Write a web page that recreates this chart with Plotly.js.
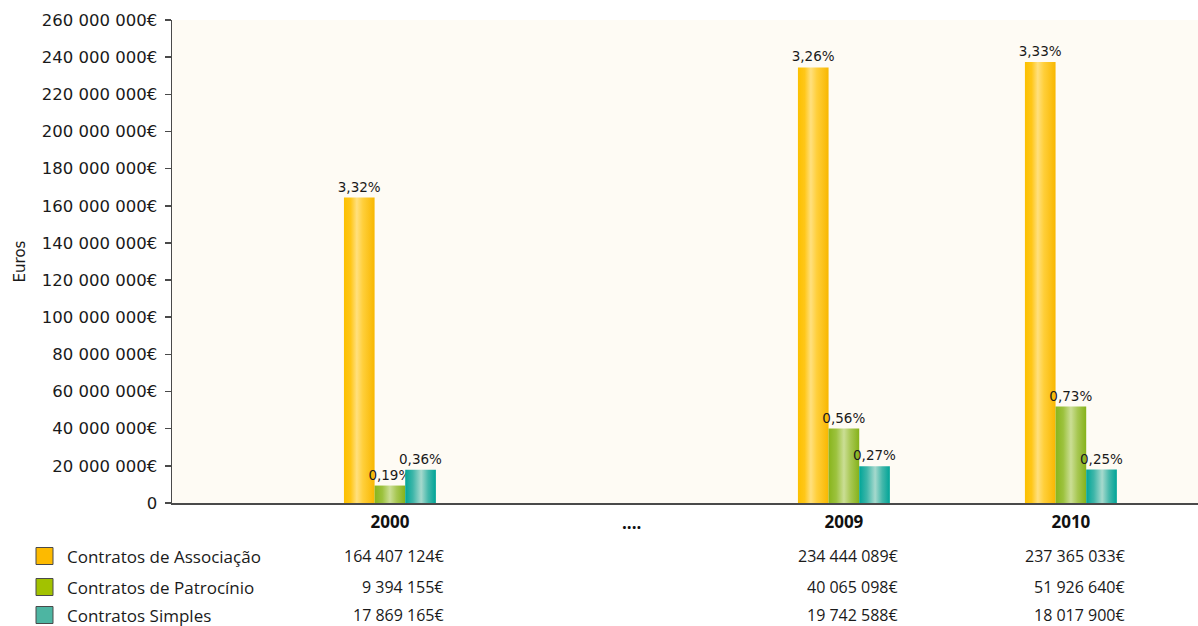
<!DOCTYPE html>
<html>
<head>
<meta charset="utf-8">
<script src="https://cdn.plot.ly/plotly-3.0.1.min.js"></script>
<style>
  html, body { margin: 0; padding: 0; background: #ffffff; }
  #chart { width: 1198px; height: 626px; }
</style>
</head>
<body>
<div id="chart"></div>
<script>
// ---------- DATA ----------
const categories = ['2000', '....', '2009', '2010'];
const xTickText = ['2000', '', '2009', '2010'];
const gapLabel = '....';
const seriesNames = ['Contratos de Associação', 'Contratos de Patrocínio', 'Contratos Simples'];
const associacao = [164407124, null, 234444089, 237365033];
const patrocinio = [9394155, null, 40065098, 51926640];
const simples = [17869165, null, 19742588, 18017900];
const pctAssociacao = ['3,32%', '', '3,26%', '3,33%'];
const pctPatrocinio = ['0,19%', '', '0,56%', '0,73%'];
const pctSimples = ['0,36%', '', '0,27%', '0,25%'];
const yTickVals = [0, 20000000, 40000000, 60000000, 80000000, 100000000, 120000000,
  140000000, 160000000, 180000000, 200000000, 220000000, 240000000, 260000000];
const yTickText = ['0', '20 000 000€', '40 000 000€', '60 000 000€', '80 000 000€',
  '100 000 000€', '120 000 000€', '140 000 000€', '160 000 000€', '180 000 000€',
  '200 000 000€', '220 000 000€', '240 000 000€', '260 000 000€'];

// ---------- STYLE ----------
const legendColors = ['#FDBA00', '#A2C200', '#4DB5A2'];
const gradients = [
  [[0, '#FCC000'], [0.22, '#FFC718'], [0.42, '#FFE07E'], [0.62, '#FFCF3A'], [1, '#F8B700']],
  [[0, '#88B51C'], [0.25, '#9CC23E'], [0.5, '#CBDE95'], [0.72, '#A7C752'], [1, '#85B21A']],
  [[0, '#00A598'], [0.25, '#3EB6A9'], [0.52, '#A6D9CD'], [0.75, '#44B8AB'], [1, '#00A497']]
];
const W = 1198, H = 626;
const M = {l: 172, r: 0, t: 20, b: 123};
const plotW = W - M.l - M.r, plotH = H - M.t - M.b;
const px2x = p => (p - M.l) / plotW;
const py2y = p => (H - M.b - p) / plotH;
const TXT = '#1a1a1a';

const fmtEuro = v => String(v).replace(/\B(?=(\d{3})+(?!\d))/g, ' ') + '€';

const seriesVals = [associacao, patrocinio, simples];
const seriesPct = [pctAssociacao, pctPatrocinio, pctSimples];

const traces = seriesVals.map((vals, i) => ({
  type: 'bar',
  name: seriesNames[i],
  x: categories,
  y: vals,
  text: seriesPct[i],
  textposition: 'outside',
  constraintext: 'none',
  cliponaxis: false,
  textfont: {family: 'DejaVu Sans', size: 13.5, color: TXT},
  marker: {color: legendColors[i], line: {width: 0}},
  showlegend: false,
  hoverinfo: 'skip'
}));

const rowY = [556, 587, 615];
const annotations = [];
const shapes = [];
seriesNames.forEach((name, i) => {
  annotations.push({
    xref: 'paper', yref: 'paper', x: px2x(66), y: py2y(rowY[i]),
    xanchor: 'left', yanchor: 'middle', showarrow: false, text: name, borderpad: 0,
    font: {family: 'Open Sans', size: 17, color: TXT}
  });
  shapes.push({
    type: 'rect', xref: 'paper', yref: 'paper',
    x0: px2x(36), x1: px2x(53), y0: py2y(rowY[i] - 8.5), y1: py2y(rowY[i] + 8.5),
    fillcolor: legendColors[i], line: {color: '#4a4a4a', width: 1}
  });
  categories.forEach((c, j) => {
    const v = seriesVals[i][j];
    if (v == null) return;
    annotations.push({
      xref: 'x', yref: 'paper', x: j, y: py2y(rowY[i]), xshift: 55, borderpad: 0,
      xanchor: 'right', yanchor: 'middle', showarrow: false, text: fmtEuro(v),
      font: {family: 'Open Sans', size: 16, color: TXT}
    });
  });
});
annotations.push({
  xref: 'x', yref: 'paper', x: 1, y: py2y(522), xshift: 15,
  xanchor: 'center', yanchor: 'middle', showarrow: false, text: '<b>' + gapLabel + '</b>',
  font: {family: 'Open Sans', size: 17, color: '#111'}
});

const layout = {
  width: W, height: H,
  margin: M,
  paper_bgcolor: '#ffffff',
  plot_bgcolor: '#FEFBF4',
  barmode: 'group',
  bargap: 0.595,
  bargroupgap: 0,
  showlegend: false,
  xaxis: {
    type: 'category',
    range: [-0.96, 3.56],
    tickvals: categories, ticktext: xTickText,
    showgrid: false, zeroline: false,
    showline: true, linecolor: '#4a4a4a', linewidth: 2,
    ticks: '', ticklabelstandoff: 3,
    tickfont: {family: 'Open Sans', size: 17, color: '#111', weight: 'bold'}
  },
  yaxis: {
    range: [0, 260000000],
    tickvals: yTickVals, ticktext: yTickText,
    showgrid: false, zeroline: false,
    showline: true, linecolor: '#4a4a4a', linewidth: 1.5,
    ticks: 'outside', ticklen: 6, tickcolor: '#4a4a4a', tickwidth: 1.5,
    ticklabelstandoff: 4,
    tickfont: {family: 'DejaVu Sans', size: 16.5, color: TXT},
    title: {text: 'Euros', standoff: 12, font: {family: 'DejaVu Sans', size: 15, color: TXT}}
  },
  annotations: annotations,
  shapes: shapes
};

Plotly.newPlot('chart', traces, layout, {displayModeBar: false, staticPlot: true}).then(gd => {
  const svg = gd.querySelector('svg.main-svg');
  const NS = 'http://www.w3.org/2000/svg';
  let defs = svg.querySelector('defs');
  if (!defs) { defs = document.createElementNS(NS, 'defs'); svg.insertBefore(defs, svg.firstChild); }
  gradients.forEach((stops, i) => {
    const lg = document.createElementNS(NS, 'linearGradient');
    lg.setAttribute('id', 'barGrad' + i);
    lg.setAttribute('x1', '0'); lg.setAttribute('x2', '1');
    lg.setAttribute('y1', '0'); lg.setAttribute('y2', '0');
    stops.forEach(s => {
      const st = document.createElementNS(NS, 'stop');
      st.setAttribute('offset', s[0]);
      st.setAttribute('stop-color', s[1]);
      lg.appendChild(st);
    });
    defs.appendChild(lg);
  });
  const groups = gd.querySelectorAll('.barlayer .trace.bars');
  groups.forEach((g, i) => {
    g.querySelectorAll('.point path').forEach(p => {
      p.style.fill = 'url(#barGrad' + i + ')';
      p.style.stroke = 'none';
    });
  });
});
</script>
</body>
</html>
